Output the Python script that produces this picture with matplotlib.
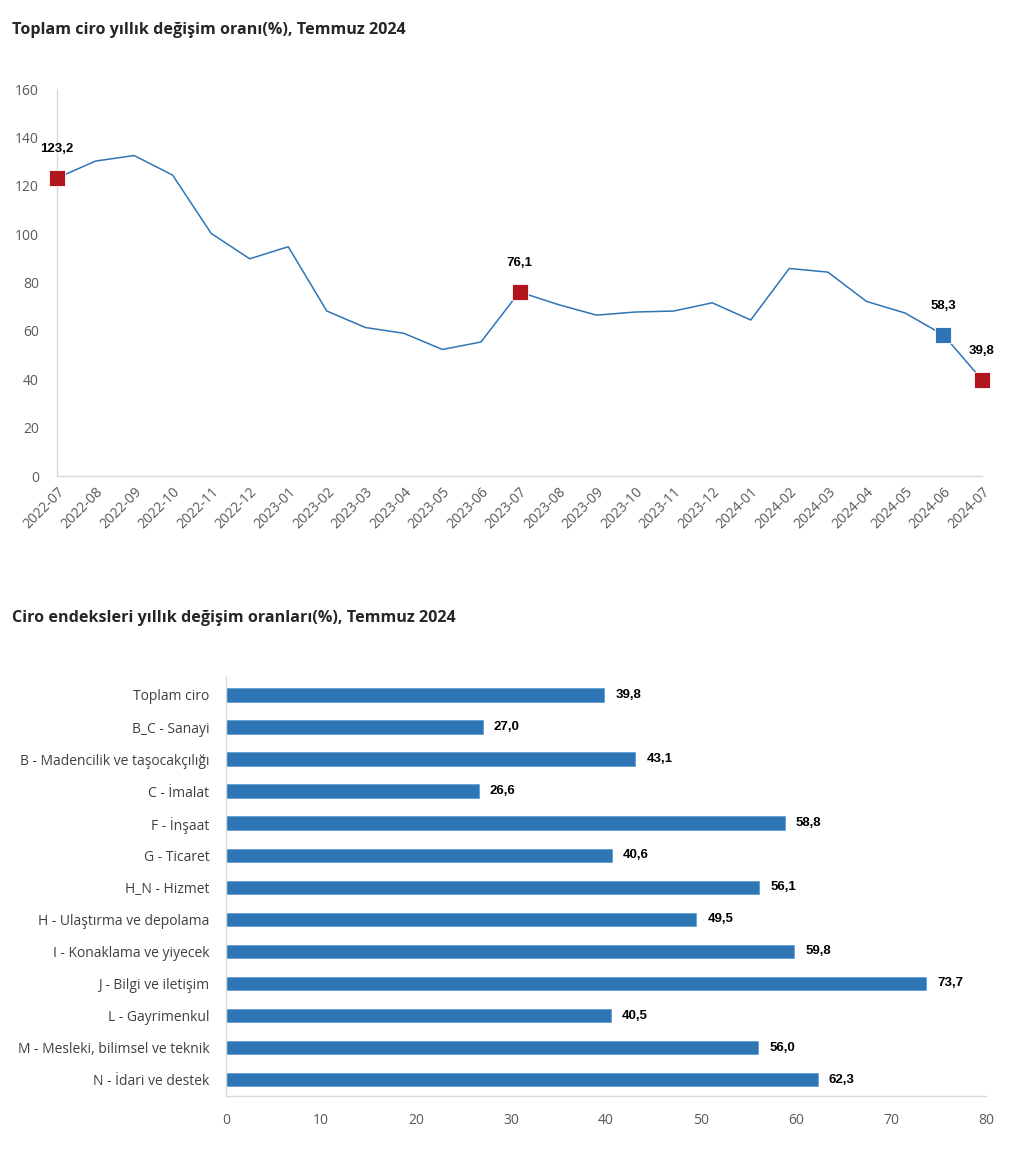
import matplotlib
matplotlib.use("Agg")
import matplotlib.pyplot as plt

months = ["2022-07", "2022-08", "2022-09", "2022-10", "2022-11", "2022-12",
          "2023-01", "2023-02", "2023-03", "2023-04", "2023-05", "2023-06",
          "2023-07", "2023-08", "2023-09", "2023-10", "2023-11", "2023-12",
          "2024-01", "2024-02", "2024-03", "2024-04", "2024-05", "2024-06",
          "2024-07"]
total_change = [123.2, 130.2, 132.5, 124.4, 100.3, 89.8, 94.8, 68.2, 61.4, 59.0,
                52.3, 55.4, 76.1, 70.9, 66.5, 67.8, 68.2, 71.6, 64.5, 85.8,
                84.3, 72.2, 67.4, 58.3, 39.8]
red_points = ["2022-07", "2023-07", "2024-07"]
blue_points = ["2024-06"]

sectors = ["Toplam ciro", "B_C - Sanayi", "B - Madencilik ve taşocakçılığı",
           "C - İmalat", "F - İnşaat", "G - Ticaret", "H_N - Hizmet",
           "H - Ulaştırma ve depolama", "I - Konaklama ve yiyecek",
           "J - Bilgi ve iletişim", "L - Gayrimenkul",
           "M - Mesleki, bilimsel ve teknik", "N - İdari ve destek"]
sector_change = [39.8, 27.0, 43.1, 26.6, 58.8, 40.6, 56.1, 49.5, 59.8, 73.7,
                 40.5, 56.0, 62.3]

title1 = "Toplam ciro yıllık değişim oranı(%), Temmuz 2024"
title2 = "Ciro endeksleri yıllık değişim oranları(%), Temmuz 2024"

BLUE = "#2e75b6"
RED = "#b2151c"
SPINE = "#d9d9d9"
TICK = "#595959"
TFONT = ["Open Sans", "DejaVu Sans"]
LFONT = ["Liberation Sans", "DejaVu Sans"]

def fmt(v):
    return f"{v:.1f}".replace(".", ",")

W, H = 1010, 1160
fig = plt.figure(figsize=(W / 100, H / 100), dpi=100)

def box(l, t, r, b):
    return [l / W, 1 - b / H, (r - l) / W, (b - t) / H]

# ---------- line chart ----------
ax1 = fig.add_axes(box(57, 89, 982, 476))
x = list(range(len(months)))
ax1.plot(x, total_change, color=BLUE, lw=1.1, zorder=2)
for pts, col in ((red_points, RED), (blue_points, BLUE)):
    for m in pts:
        i = months.index(m)
        ax1.plot(i, total_change[i], marker="s", ms=11.5, color=col,
                 mec="white", mew=0.6, clip_on=False, zorder=3)
        ax1.annotate(fmt(total_change[i]), (i, total_change[i]),
                     xytext=(0, 21), textcoords="offset points",
                     ha="center", va="center", fontsize=9.5, fontweight="bold",
                     family=LFONT, color="black")
ax1.set_xlim(0, len(months) - 1)
ax1.set_ylim(0, 160)
ax1.set_yticks(range(0, 161, 20))
ax1.set_xticks(x)
ax1.set_xticklabels(months, rotation=45, ha="right", va="top",
                    rotation_mode="anchor")
for s in ("top", "right"):
    ax1.spines[s].set_visible(False)
for s in ("left", "bottom"):
    ax1.spines[s].set_color(SPINE)
    ax1.spines[s].set_linewidth(1)
ax1.tick_params(length=0, labelcolor=TICK, labelsize=10)
ax1.tick_params(axis="y", pad=13)
ax1.tick_params(axis="x", pad=6)
for lab in ax1.get_xticklabels() + ax1.get_yticklabels():
    lab.set_family(TFONT)

fig.text(12 / W, 1 - 30 / H, title1, fontsize=11.6, fontweight="bold",
         family=TFONT, color="#262626", ha="left", va="center")
fig.text(12 / W, 1 - 618 / H, title2, fontsize=11.6, fontweight="bold",
         family=TFONT, color="#262626", ha="left", va="center")

# ---------- bar chart ----------
ax2 = fig.add_axes(box(226, 677, 986, 1096))
y = list(range(len(sectors)))
ax2.barh(y, sector_change, height=0.42, color=BLUE, edgecolor="#5b9bd5",
         linewidth=0.5, zorder=2)
for yi, v in zip(y, sector_change):
    ax2.annotate(fmt(v), (v, yi), xytext=(8, 0), textcoords="offset points",
                 ha="left", va="center", fontsize=9.5, fontweight="bold",
                 family=LFONT, color="black")
ax2.set_ylim(len(sectors) - 0.49, -0.56)
ax2.set_xlim(0, 80)
ax2.set_xticks(range(0, 81, 10))
ax2.set_yticks(y)
ax2.set_yticklabels(sectors)
for s in ("top", "right"):
    ax2.spines[s].set_visible(False)
for s in ("left", "bottom"):
    ax2.spines[s].set_color(SPINE)
    ax2.spines[s].set_linewidth(1)
ax2.tick_params(length=0, labelcolor=TICK, labelsize=10)
ax2.tick_params(axis="y", pad=12, labelcolor="#404040")
ax2.tick_params(axis="x", pad=12)
for lab in ax2.get_xticklabels() + ax2.get_yticklabels():
    lab.set_family(TFONT)

fig.savefig("out.png", dpi=100, facecolor="white")
